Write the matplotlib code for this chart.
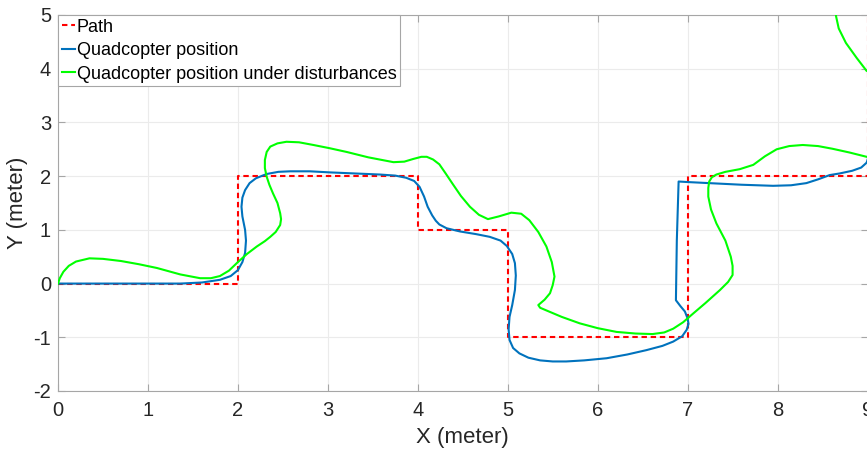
import matplotlib
matplotlib.use("Agg")
import matplotlib.pyplot as plt

plt.rcParams['font.family'] = ['Liberation Sans', 'DejaVu Sans']
plt.rcParams['axes.unicode_minus'] = False

path_x = [0, 2, 2, 4, 4, 5, 5, 7, 7, 9, 9]
path_y = [0, 0, 2, 2, 1, 1, -1, -1, 2, 2, 5.5]

quad_x = [0.0, 0.5, 1.0, 1.36, 1.6, 1.8, 1.92, 2.0, 2.05, 2.08, 2.09, 2.08, 2.05, 2.04,
          2.05, 2.08, 2.13, 2.2, 2.32, 2.45, 2.58, 2.8, 3.02, 3.3, 3.58, 3.75, 3.87, 3.96,
          4.02, 4.07, 4.11, 4.16, 4.2, 4.24, 4.32, 4.47, 4.65, 4.8, 4.92, 4.99, 5.05,
          5.08, 5.09, 5.08, 5.05, 5.02, 5.01, 5.02, 5.06, 5.13, 5.23, 5.36, 5.5, 5.65,
          5.85, 6.1, 6.33, 6.54, 6.72, 6.84, 6.94, 6.99, 7.01, 7.0, 6.97, 6.92, 6.87,
          6.88, 6.9, 7.0, 7.24, 7.6, 7.95, 8.15, 8.32, 8.45, 8.58, 8.69, 8.83, 8.93,
          8.99, 9.04, 9.08, 9.1, 9.1]
quad_y = [0.0, 0.0, 0.0, 0.0, 0.02, 0.07, 0.14, 0.25, 0.4, 0.57, 0.8, 1.0, 1.25, 1.43,
          1.6, 1.74, 1.87, 1.96, 2.04, 2.08, 2.09, 2.09, 2.07, 2.05, 2.03, 2.01, 1.97, 1.91,
          1.8, 1.62, 1.43, 1.27, 1.17, 1.1, 1.03, 0.97, 0.92, 0.87, 0.8, 0.7, 0.55,
          0.38, 0.15, -0.12, -0.4, -0.62, -0.85, -1.05, -1.2, -1.3, -1.38, -1.43, -1.45, -1.45,
          -1.43, -1.39, -1.32, -1.24, -1.16, -1.08, -0.98, -0.86, -0.75, -0.65, -0.52, -0.42, -0.31,
          0.8, 1.9, 1.89, 1.87, 1.84, 1.82, 1.83, 1.87, 1.94, 2.02, 2.05, 2.1, 2.16,
          2.25, 2.5, 3.0, 3.8, 5.5]

dist_x = [0.0, 0.02, 0.06, 0.12, 0.2, 0.35, 0.5, 0.7, 0.9, 1.1, 1.36, 1.58, 1.7, 1.8, 1.9,
          2.0, 2.1, 2.21, 2.3, 2.36, 2.42, 2.47, 2.48, 2.47, 2.44, 2.39, 2.35, 2.32, 2.3,
          2.3, 2.32, 2.36, 2.44, 2.54, 2.68, 2.84, 3.02, 3.21, 3.45, 3.73, 3.85, 3.95, 4.04,
          4.1, 4.17, 4.24, 4.31, 4.39, 4.48, 4.58, 4.68, 4.78, 4.9, 5.04, 5.15, 5.24, 5.34,
          5.43, 5.49, 5.52, 5.5, 5.47, 5.41, 5.34, 5.36, 5.43, 5.6, 5.8, 6.0, 6.21, 6.42,
          6.61, 6.74, 6.84, 6.95, 7.06, 7.2, 7.36, 7.45, 7.5, 7.5, 7.48, 7.42, 7.32, 7.26,
          7.23, 7.23, 7.24, 7.27, 7.32, 7.42, 7.58, 7.73, 7.86, 7.99, 8.13, 8.28, 8.45, 8.61,
          8.8, 8.99, 9.2, 9.4, 9.5, 9.45, 9.25, 9.08, 8.99, 8.88, 8.76, 8.68, 8.65, 8.64]
dist_y = [0.0, 0.1, 0.22, 0.33, 0.41, 0.47, 0.46, 0.42, 0.36, 0.29, 0.17, 0.1, 0.1, 0.14, 0.24,
          0.4, 0.55, 0.69, 0.79, 0.87, 0.96, 1.09, 1.2, 1.31, 1.5, 1.68, 1.84, 1.99, 2.15,
          2.3, 2.45, 2.55, 2.61, 2.64, 2.63, 2.58, 2.52, 2.45, 2.35, 2.26, 2.27, 2.32, 2.36,
          2.36, 2.31, 2.22, 2.05, 1.85, 1.63, 1.43, 1.28, 1.2, 1.25, 1.32, 1.3, 1.18, 0.96,
          0.69, 0.4, 0.13, -0.03, -0.18, -0.3, -0.4, -0.45, -0.5, -0.62, -0.74, -0.83, -0.9, -0.93,
          -0.94, -0.91, -0.84, -0.72, -0.56, -0.36, -0.12, 0.03, 0.16, 0.33, 0.5, 0.8, 1.12, 1.38,
          1.62, 1.78, 1.9, 1.98, 2.03, 2.08, 2.13, 2.21, 2.37, 2.5, 2.56, 2.58, 2.56, 2.51,
          2.44, 2.36, 2.3, 2.5, 2.95, 3.45, 3.78, 3.9, 3.96, 4.2, 4.48, 4.75, 4.98, 5.3]

x_ticks = [0, 1, 2, 3, 4, 5, 6, 7, 8, 9]
y_ticks = [-2, -1, 0, 1, 2, 3, 4, 5]

fig = plt.figure(figsize=(8.67, 4.55), dpi=100)
W, H = 867, 455
left, right = 58, 867.5
top, bottom = 15, 391
ax = fig.add_axes([left / W, 1 - bottom / H, (right - left) / W, (bottom - top) / H])

ax.plot(path_x, path_y, color='#ff0000', linestyle=(0, (2.6, 1.8)), lw=1.5,
        label='Path', zorder=3)
ax.plot(quad_x, quad_y, color='#0072BD', lw=1.5, label='Quadcopter position', zorder=4)
ax.plot(dist_x, dist_y, color='#00FF00', lw=1.5,
        label='Quadcopter position under disturbances', zorder=5)

ax.set_xlim(0, 9)
ax.set_ylim(-2, 5)
ax.set_xticks(x_ticks)
ax.set_yticks(y_ticks)
ax.grid(True, color='#ebebeb', lw=0.8)
ax.set_axisbelow(True)
for s in ax.spines.values():
    s.set_color('#a6a6a6')
    s.set_linewidth(0.8)
ax.tick_params(direction='in', length=5, colors='#a6a6a6', labelcolor='#262626',
               labelsize=14.5, top=True, right=True)
ax.tick_params(axis='x', pad=7)
ax.tick_params(axis='y', pad=5)
ax.set_xlabel('X (meter)', fontsize=16, color='#262626', labelpad=5)
ax.set_ylabel('Y (meter)', fontsize=16, color='#262626', labelpad=4)

leg = ax.legend(loc='upper left', bbox_to_anchor=(0, 1), borderaxespad=0,
                fontsize=13, handlelength=0.75, handletextpad=0.1, borderpad=0.2,
                labelspacing=0.36, fancybox=False, framealpha=1)
leg.get_frame().set_edgecolor('#a6a6a6')
leg.get_frame().set_linewidth(0.8)

fig.savefig('out.png', dpi=100)
